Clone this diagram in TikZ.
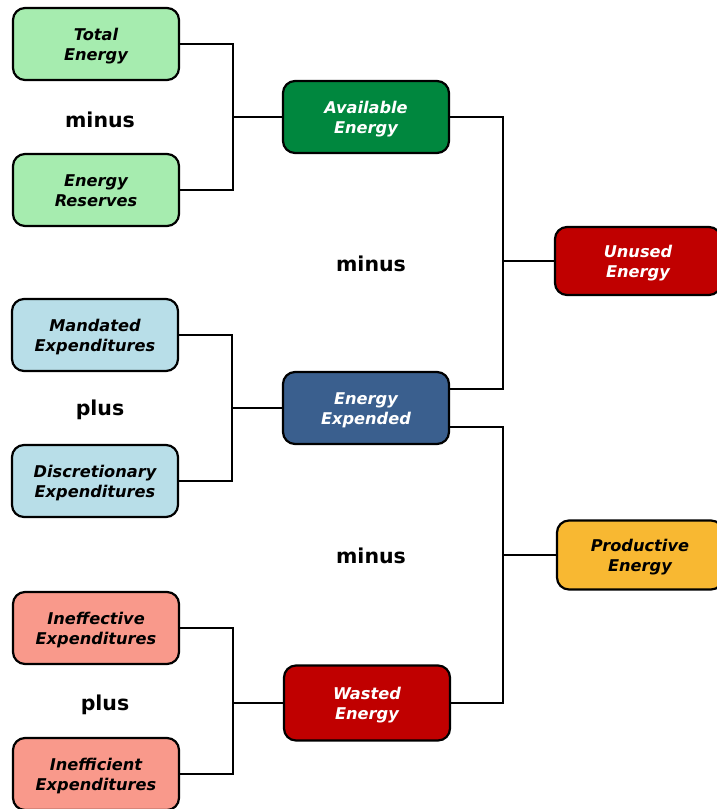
\documentclass[tikz,border=0pt]{standalone}
\usepackage{fontspec}
\setmainfont{DejaVu Sans}
\definecolor{lgreen}{HTML}{A6ECAF}
\definecolor{dgreen}{HTML}{00873E}
\definecolor{dred}{HTML}{C00000}
\definecolor{dblue}{HTML}{3A5F8E}
\definecolor{orng}{HTML}{F8B832}
\definecolor{lblue}{HTML}{B8DEE8}
\definecolor{salmon}{HTML}{F9998B}
\newcommand{\twol}[2]{\rule{0pt}{17pt}#1\\#2\rule[-4pt]{0pt}{4pt}}
\begin{document}
\begin{tikzpicture}[x=1pt,y=-1pt,
  box/.style={draw=black,line width=2.2pt,rounded corners=12pt,minimum width=166pt,minimum height=72pt,align=center,
    font=\fontsize{16.2}{20}\selectfont\bfseries\itshape,inner sep=0pt},
  wbox/.style={box,text=white},
  op/.style={font=\fontsize{20.5}{24}\selectfont\bfseries},
  wire/.style={line width=2pt}]
\useasboundingbox (0,0) rectangle (716,809);
% left column
\node[box,fill=lgreen] (total) at (96,44) {\twol{Total}{Energy}};
\node[box,fill=lgreen] (reserves) at (96,190) {\twol{Energy}{Reserves}};
\node[op] (m1) at (100,120) {minus};
\node[box,fill=lblue] (mandated) at (95,335) {\twol{Mandated}{Expenditures}};
\node[box,fill=lblue] (discr) at (95,481) {\twol{Discretionary}{Expenditures}};
\node[op] (p1) at (100,410) {plus};
\node[box,fill=salmon] (ineff) at (96,628) {\twol{Ineffective}{Expenditures}};
\node[box,fill=salmon] (ineffi) at (96,774) {\twol{Inefficient}{Expenditures}};
\node[op] (p2) at (105,705) {plus};
% middle column
\node[wbox,fill=dgreen] (avail) at (366,117) {\twol{Available}{Energy}};
\node[wbox,fill=dblue] (expended) at (366,408) {\twol{Energy}{Expended}};
\node[wbox,fill=dred,minimum height=75pt] (wasted) at (367,703) {\twol{Wasted}{Energy}};
\node[op] (m2) at (371,264) {minus};
\node[op] (m3) at (371,556) {minus};
% right column
\node[wbox,fill=dred,minimum height=68pt] (unused) at (638,261) {\twol{Unused}{Energy}};
\node[box,fill=orng,minimum height=69pt] (prod) at (640,555) {\twol{Productive}{Energy}};
% junctions
\coordinate (j1) at (233,117);
\coordinate (j2) at (232,408);
\coordinate (j3) at (233,703);
\coordinate (j4) at (503,261);
\coordinate (j5) at (503,555);
% connectors
\draw[wire] (total.east) -| (j1) |- (reserves.east);
\draw[wire] (j1) -- (avail.west);
\draw[wire] (mandated.east) -| (j2) |- (discr.east);
\draw[wire] (j2) -- (expended.west);
\draw[wire] (ineff.east) -| (j3) |- (ineffi.east);
\draw[wire] (j3) -- (wasted.west);
\draw[wire] (avail.east) -| (j4) |- ([yshift=19pt]expended.east);
\draw[wire] (j4) -- (unused.west);
\draw[wire] ([yshift=-19pt]expended.east) -| (j5) |- (wasted.east);
\draw[wire] (j5) -- (prod.west);
\end{tikzpicture}
\end{document}
